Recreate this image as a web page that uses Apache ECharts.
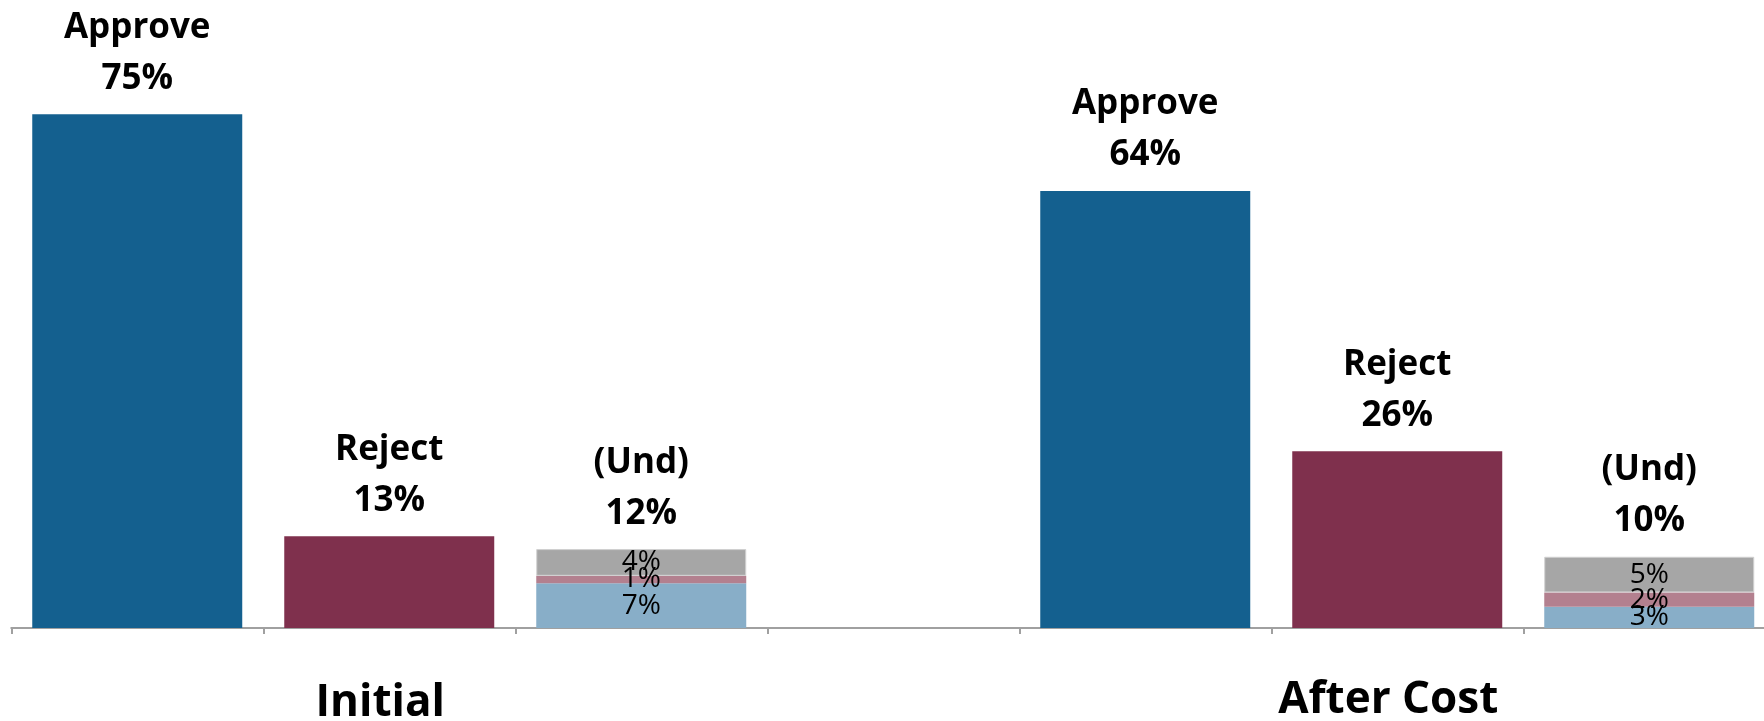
<!DOCTYPE html>
<html>
<head>
<meta charset="utf-8">
<script src="https://cdn.jsdelivr.net/npm/echarts@6/dist/echarts.min.js"></script>
<style>
html,body{margin:0;padding:0;background:#fff;}
#c{width:1764px;height:721px;}
</style>
</head>
<body>
<div id="c"></div>
<script>
// ---- data ----
var categories = ['Approve', 'Reject', '(Und)', '', 'Approve', 'Reject', '(Und)'];
var groupLabels = ['', 'Initial', '', '', '', 'After Cost', ''];
var approve = [75, 63.8];        // Initial, After Cost
var reject = [13.4, 25.8];
var undBlue = [6.55, 3.1];
var undPink = [1.07, 2.1];
var undGray = [3.9, 5.2];

var colApprove = '#14608F', colReject = '#7F304D';
var colBlue = '#88AEC8', colPink = '#B3808F', colGray = '#A6A6A6';

function pct(v) { return Math.round(v) + '%'; }

var mainData = [
  { value: approve[0], itemStyle: { color: colApprove } },
  { value: reject[0], itemStyle: { color: colReject } },
  '-', '-',
  { value: approve[1], itemStyle: { color: colApprove } },
  { value: reject[1], itemStyle: { color: colReject } },
  '-'
];
function undSeries(arr) { return ['-', '-', arr[0], '-', '-', '-', arr[1]]; }
var undTotals = [undBlue[0] + undPink[0] + undGray[0], undBlue[1] + undPink[1] + undGray[1]];

var topLabel = {
  show: true, position: 'top', distance: 10,
  fontFamily: 'Open Sans', fontWeight: 'bold', fontSize: 35, lineHeight: 51,
  color: '#000', align: 'center'
};
var segLabel = {
  show: true, position: 'inside',
  fontFamily: 'Open Sans', fontSize: 28, color: '#000',
  formatter: function (p) { return pct(p.value); }
};

function groupAxis(showIndex, margin) {
  return {
    type: 'category', data: groupLabels, position: 'bottom',
    axisLine: { show: false }, axisTick: { show: false }, splitLine: { show: false },
    axisLabel: {
      show: true, interval: 0, margin: margin,
      fontFamily: 'Open Sans', fontWeight: 'bold', fontSize: 44, lineHeight: 44,
      color: '#000', padding: [0, 18, 0, 0],
      formatter: function (v, i) { return i === showIndex ? v : ''; }
    }
  };
}

var chart = echarts.init(document.getElementById('c'), null, { renderer: 'canvas' });
chart.setOption({
  animation: false,
  backgroundColor: '#fff',
  grid: { left: 11.25, width: 1764, top: 80, height: 548, containLabel: false, outerBoundsMode: 'none' },
  xAxis: [
    {
      type: 'category', data: categories, position: 'bottom',
      axisLine: { show: true, lineStyle: { color: '#A0A0A0', width: 2 } },
      axisTick: { show: true, alignWithLabel: false, length: 6, lineStyle: { color: '#A0A0A0', width: 2 } },
      axisLabel: { show: false },
      splitLine: { show: false }
    },
    groupAxis(1, 53),
    groupAxis(5, 50)
  ],
  yAxis: { type: 'value', min: 0, max: 80, show: false, splitLine: { show: false } },
  series: [
    {
      name: 'main', type: 'bar', stack: 'all', barCategoryGap: '16.67%',
      data: mainData,
      label: Object.assign({}, topLabel, {
        formatter: function (p) { return categories[p.dataIndex] + '\n' + pct(p.value); }
      })
    },
    {
      name: 'undBlue', type: 'bar', stack: 'all', data: undSeries(undBlue),
      itemStyle: { color: colBlue }, label: segLabel
    },
    {
      name: 'undPink', type: 'bar', stack: 'all', data: undSeries(undPink),
      itemStyle: { color: colPink }, label: segLabel
    },
    {
      name: 'undGray', type: 'bar', stack: 'all', data: undSeries(undGray),
      itemStyle: { color: colGray, borderColor: '#D0D0D0', borderWidth: 1 }, label: segLabel
    },
    {
      name: 'undTotal', type: 'bar', stack: 'all', data: ['-', '-', 0, '-', '-', '-', 0],
      itemStyle: { color: 'rgba(0,0,0,0)' },
      label: Object.assign({}, topLabel, {
        formatter: function (p) {
          var t = p.dataIndex === 2 ? undTotals[0] : undTotals[1];
          return categories[p.dataIndex] + '\n' + pct(t);
        }
      })
    }
  ]
});
</script>
</body>
</html>
